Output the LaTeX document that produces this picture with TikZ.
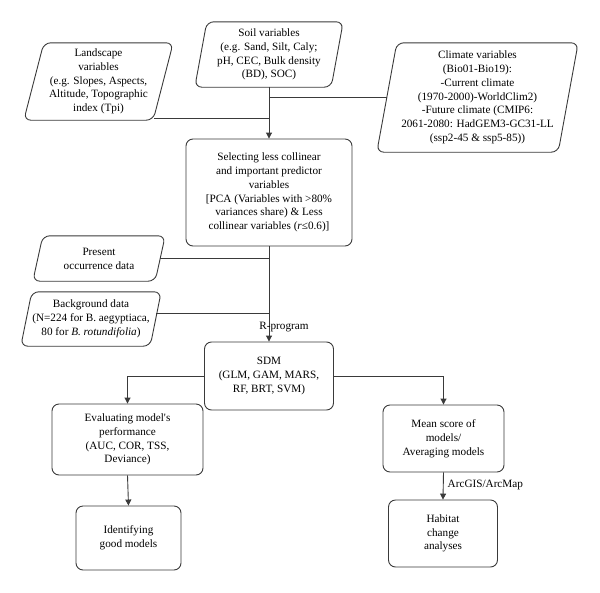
\documentclass[tikz,border=0pt]{standalone}
\usepackage{fontspec}
\setmainfont{Liberation Serif}[Ligatures=TeXOff]
\usetikzlibrary{arrows.meta,calc}
\definecolor{linec}{HTML}{3A3A3A}
\begin{document}
\begin{tikzpicture}[x=1pt,y=-1pt,
  txt/.style={align=center,font=\fontsize{11.2}{13.8}\selectfont,inner sep=0pt},
  rbox/.style={txt,draw=linec,line width=0.9pt,rounded corners=7pt},
  pbox/.style={txt},
  pshape/.style={draw=linec,line width=0.9pt,rounded corners=7pt},
  conn/.style={draw=linec,line width=0.9pt},
  arr/.style={conn,-{Triangle[length=6pt,width=6pt]}}]
\useasboundingbox (0,0) rectangle (600,592);

% parallelogram nodes
\node[pbox,minimum width=149pt,minimum height=77pt] (land) at (98.5,81.5)
  {Landscape\\variables\\(e.g. Slopes, Aspects,\\Altitude, Topographic\\index (Tpi)};
\draw[pshape] ([xshift=20pt]land.north west) -- (land.north east) -- ([xshift=-20pt]land.south east) -- (land.south west) -- cycle;

\node[pbox,minimum width=148pt,minimum height=65pt] (soil) at (269,54.5)
  {Soil variables\\(e.g. Sand, Silt, Caly;\\pH, CEC, Bulk density\\(BD), SOC)};
\draw[pshape] ([xshift=12pt]soil.north west) -- (soil.north east) -- ([xshift=-12pt]soil.south east) -- (soil.south west) -- cycle;

\node[pbox,minimum width=201pt,minimum height=109pt] (clim) at (477.5,97.5)
  {Climate variables\\(Bio01-Bio19):\\-Current climate\\(1970-2000)-WorldClim2)\\-Future climate (CMIP6:\\2061-2080: HadGEM3-GC31-LL\\(ssp2-45 \& ssp5-85))};
\draw[pshape] ([xshift=20pt]clim.north west) -- (clim.north east) -- ([xshift=-20pt]clim.south east) -- (clim.south west) -- cycle;

\node[pbox,minimum width=132pt,minimum height=45pt] (pres) at (99,258.5)
  {Present\\occurrence data};
\draw[pshape] ([xshift=10pt]pres.north west) -- (pres.north east) -- ([xshift=-10pt]pres.south east) -- (pres.south west) -- cycle;

\node[pbox,minimum width=140pt,minimum height=54pt] (back) at (91,319)
  {Background data\\(N=224 for B. aegyptiaca,\\80 for \textit{B. rotundifolia})};
\draw[pshape] ([xshift=11pt]back.north west) -- (back.north east) -- ([xshift=-11pt]back.south east) -- (back.south west) -- cycle;

% rectangular nodes
\node[rbox,minimum width=166pt,minimum height=107pt] (sel) at (269,192.5)
  {Selecting less collinear\\and important predictor\\variables\\{[}PCA (Variables with >80\%\\variances share) \& Less\\collinear variables (\textit{r}≤0.6)]};
\node[rbox,minimum width=129pt,minimum height=68pt] (sdm) at (269,376)
  {SDM\\(GLM, GAM, MARS,\\RF, BRT, SVM)};
\node[rbox,minimum width=151pt,minimum height=71pt] (eval) at (127.5,439.5)
  {Evaluating model's\\performance\\(AUC, COR, TSS,\\Deviance)};
\node[rbox,minimum width=105pt,minimum height=64pt] (ident) at (128.5,538)
  {Identifying\\good models};
\node[rbox,minimum width=121pt,minimum height=67pt] (mean) at (443.5,438.5)
  {Mean score of\\models/\\Averaging models};
\node[rbox,minimum width=109pt,minimum height=67pt] (hab) at (443,533.5)
  {Habitat\\change\\analyses};

% junction coordinates
\coordinate (jclim) at (269,97);
\coordinate (jland) at (269,118);
\coordinate (jpres) at (269,258);
\coordinate (jback) at (269,313);
\coordinate (climL) at (387,97);
\coordinate (landR) at (154,118);
\coordinate (presR) at (160,258);
\coordinate (backR) at (156,313);

% connectors
\draw[arr] (soil.south) -- (sel.north);
\draw[conn] (climL) -- (jclim);
\draw[conn] (landR) -- (jland);
\draw[arr] (sel.south) -- (sdm.north);
\draw[conn] (presR) -- (jpres);
\draw[conn] (backR) -- (jback);
\node[txt] (rprog) at (284,327) {R-program};
\draw[arr] (sdm.west) -| (eval.north);
\draw[arr] (sdm.east) -| (mean.north);
\draw[arr] (eval.south) -- (ident.north);
\draw[arr] (mean.south) -- node[txt,right=4pt,pos=0.45] (arcgis) {ArcGIS/ArcMap} (hab.north);
\end{tikzpicture}
\end{document}
